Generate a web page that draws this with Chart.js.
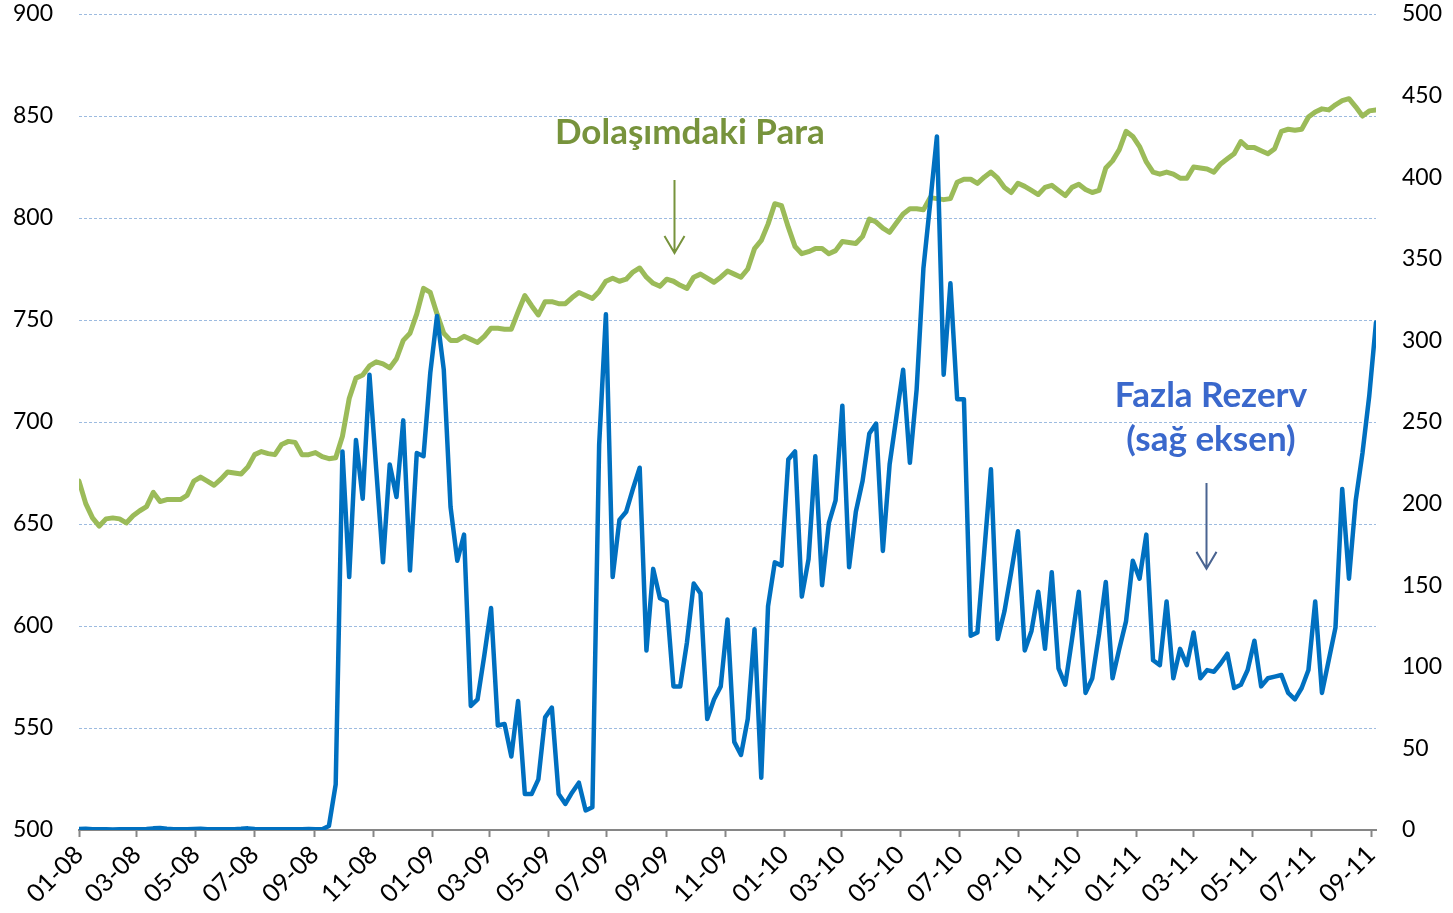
<!DOCTYPE html>
<html>
<head>
<meta charset="utf-8">
<script src="https://cdn.jsdelivr.net/npm/chart.js@4.4.0/dist/chart.umd.min.js"></script>
<style>
  html, body { margin: 0; padding: 0; background: #fff; }
  #wrap { width: 1453px; height: 913px; }
</style>
</head>
<body>
<div id="wrap"><canvas id="myChart" width="1453" height="913"></canvas></div>
<script>
// weekly observations, first one on 4 Jan 2008
const startDate = Date.UTC(2008, 0, 4);
const weekCount = 193;
const weekDays = Array.from({ length: weekCount }, (_, i) => i * 7);

const tickLabels = ['01-08', '03-08', '05-08', '07-08', '09-08', '11-08',
    '01-09', '03-09', '05-09', '07-09', '09-09', '11-09',
    '01-10', '03-10', '05-10', '07-10', '09-10', '11-10',
    '01-11', '03-11', '05-11', '07-11', '09-11'];

// Dolaşımdaki Para (left axis)
const dolasimdakiPara = [
    671, 660, 653, 649, 652.5, 653, 652.5, 650.5, 654, 656.5,
    658.5, 665.5, 661, 662, 662, 662, 664, 671, 673, 671,
    669, 672, 675.5, 675, 674.5, 678, 684, 685.5, 684.5, 684,
    689, 690.5, 690, 684, 684, 685, 683, 682, 682.5, 693,
    711.5, 721.5, 723, 727.5, 729.5, 728.5, 726.5, 731, 740, 743.5,
    753, 765.5, 763.5, 753, 743.5, 740, 740, 742, 740.5, 739,
    742, 746, 746, 745.5, 745.5, 754, 762, 757, 752.5, 759,
    759, 758, 758, 761, 763.5, 762, 760.5, 764, 769, 770.5,
    769, 770, 773.5, 775.5, 771, 768, 766.5, 770, 769, 767,
    765.5, 771, 772.5, 770.5, 768.5, 771, 774, 772.5, 771, 775,
    785, 789, 797, 807, 806, 795.5, 786, 782.5, 783.5, 785,
    785, 782.5, 784, 788.5, 788, 787.5, 791, 799.5, 798, 795,
    793, 797.5, 802, 804.5, 804.5, 804, 810, 809.5, 809, 809.5,
    817.5, 819, 819, 817, 820, 822.5, 819.5, 815, 812.5, 817,
    815.5, 813.5, 811.5, 815, 816, 813.5, 811, 815, 816.5, 814,
    812.5, 813.5, 824.5, 828, 833.5, 842.5, 840, 835, 827.5, 822.5,
    821.5, 822.5, 821.5, 819.5, 819.5, 825, 824.5, 824, 822.5, 826.5,
    829, 831.5, 837.5, 834.5, 834.5, 833, 831.5, 834, 842.5, 843.5,
    843, 843.5, 849.5, 852, 853.5, 853, 855.5, 857.5, 858.5, 854.5,
    850, 852.5, 853
];

// Fazla Rezerv (right axis)
const fazlaRezerv = [
    0.6, 0.7, 0.4, 0.5, 0.5, 0.3, 0.4, 0.4, 0.5, 0.5,
    0.6, 1.0, 1.2, 0.8, 0.5, 0.4, 0.4, 0.6, 0.8, 0.5,
    0.4, 0.5, 0.4, 0.5, 0.7, 1.0, 0.6, 0.5, 0.4, 0.4,
    0.5, 0.5, 0.4, 0.5, 0.6, 0.5, 0.4, 2.5, 28, 232,
    155, 239, 203, 279, 221, 164, 224, 204, 251, 159,
    231, 229, 280, 315, 282, 198, 165, 181, 76, 80,
    107, 136, 64, 65, 45, 79, 22, 22, 31, 69,
    75, 22, 16, 23, 29, 12, 14, 236, 316, 155,
    190, 195, 209, 222, 110, 160, 142, 140, 88, 88,
    115, 151, 145, 68, 80, 88, 129, 54, 46, 68,
    123, 32, 137, 164, 162, 227, 232, 143, 166, 229,
    150, 188, 202, 260, 161, 195, 214, 243, 249, 171,
    224, 253, 282, 225, 270, 344, 384, 425, 279, 335,
    264, 264, 119, 121, 170, 221, 117, 134, 158, 183,
    110, 122, 146, 111, 158, 99, 89, 117, 146, 84,
    93, 120, 152, 93, 111, 128, 165, 154, 181, 104,
    101, 140, 93, 111, 101, 121, 93, 98, 97, 102,
    108, 87, 89, 98, 116, 88, 93, 94, 95, 84,
    80, 87, 98, 140, 84, 104, 124, 209, 154, 202,
    231, 266, 311
];

// tick every other month, same day of month as the first observation
const tickDays = tickLabels.map(l => {
    const [mm, yy] = l.split('-').map(Number);
    return Math.round((Date.UTC(2000 + yy, mm - 1, 4) - startDate) / 86400000);
});

// annotations, placed in data units
const labelNotes = [
    { text: 'Dolaşımdaki Para', day: 633, value: 836.3, axis: 'y', color: '#77933c' },
    { text: 'Fazla Rezerv', day: 1173, value: 259, axis: 'y1', color: '#3a68cc' },
    { text: '(sağ eksen)', day: 1173, value: 232.4, axis: 'y1', color: '#3a68cc' }
];
const arrowNotes = [
    { day: 617, from: 818.6, to: 782.8, axis: 'y', color: '#77933c' },
    { day: 1168, from: 212.6, to: 160, axis: 'y1', color: '#4a6491' }
];

const notes = {
    id: 'notes',
    afterDraw(chart) {
        const ctx = chart.ctx;
        const xs = chart.scales.x;
        ctx.save();
        ctx.font = 'bold 35px Lato';
        ctx.textAlign = 'center';
        ctx.textBaseline = 'alphabetic';
        for (const n of labelNotes) {
            ctx.fillStyle = n.color;
            ctx.fillText(n.text, xs.getPixelForValue(n.day), chart.scales[n.axis].getPixelForValue(n.value));
        }
        ctx.lineWidth = 2;
        for (const a of arrowNotes) {
            const ys = chart.scales[a.axis];
            const px = Math.round(xs.getPixelForValue(a.day)) + 0.5;
            const y0 = ys.getPixelForValue(a.from);
            const y1 = ys.getPixelForValue(a.to);
            ctx.strokeStyle = a.color;
            ctx.beginPath();
            ctx.moveTo(px, y0);
            ctx.lineTo(px, y1);
            ctx.moveTo(px - 10, y1 - 17);
            ctx.lineTo(px, y1);
            ctx.lineTo(px + 10, y1 - 17);
            ctx.stroke();
        }
        ctx.restore();
    }
};

const toPoints = arr => arr.map((v, i) => ({ x: weekDays[i], y: v }));

// stop tick padding from pushing the plot area in
const fixY = width => scale => {
    scale.width = width;
    scale.paddingTop = 0;
    scale.paddingBottom = 0;
};

const config = {
    type: 'line',
    plugins: [notes],
    data: {
        datasets: [
            {
                label: 'Fazla Rezerv',
                data: toPoints(fazlaRezerv),
                yAxisID: 'y1',
                borderColor: '#0070c0',
                borderWidth: 4.5,
                pointRadius: 0,
                tension: 0,
                borderJoinStyle: 'round',
                borderCapStyle: 'round'
            },
            {
                label: 'Dolaşımdaki Para',
                data: toPoints(dolasimdakiPara),
                yAxisID: 'y',
                borderColor: '#9bbb59',
                borderWidth: 5,
                pointRadius: 0,
                tension: 0,
                borderJoinStyle: 'round',
                borderCapStyle: 'round'
            }
        ]
    },
    options: {
        responsive: false,
        devicePixelRatio: 1,
        animation: false,
        layout: { padding: { top: 14, left: 0, right: 0, bottom: 0 } },
        plugins: {
            legend: { display: false },
            tooltip: { enabled: false }
        },
        scales: {
            x: {
                type: 'linear',
                position: 'bottom',
                min: 0,
                max: weekDays[weekCount - 1],
                afterBuildTicks: scale => {
                    scale.ticks = tickDays.map(v => ({ value: v }));
                },
                afterFit: scale => { scale.height = 83; },
                ticks: {
                    autoSkip: false,
                    minRotation: 45,
                    maxRotation: 45,
                    padding: 3,
                    color: '#000',
                    font: { family: 'Lato', size: 25 },
                    callback: (value, index) => tickLabels[index]
                },
                grid: {
                    drawOnChartArea: false,
                    drawTicks: true,
                    tickLength: 7,
                    tickColor: '#868686',
                    tickWidth: 2,
                    color: '#868686'
                },
                border: { display: true, color: '#868686', width: 2 }
            },
            y: {
                position: 'left',
                min: 500,
                max: 900,
                afterFit: fixY(79),
                ticks: {
                    stepSize: 50,
                    padding: 26,
                    color: '#000',
                    font: { family: 'Lato', size: 23 }
                },
                grid: {
                    drawTicks: false,
                    lineWidth: 1,
                    color: c => (c.tick && c.tick.value === 500) ? 'rgba(0,0,0,0)' : '#9dbbe0'
                },
                border: { display: false, dash: [3, 2] }
            },
            y1: {
                position: 'right',
                min: 0,
                max: 500,
                afterFit: fixY(77),
                ticks: {
                    stepSize: 50,
                    padding: 26,
                    color: '#000',
                    font: { family: 'Lato', size: 23 }
                },
                grid: { drawOnChartArea: false, drawTicks: false },
                border: { display: false }
            }
        }
    }
};

new Chart(document.getElementById('myChart'), config);
</script>
</body>
</html>
